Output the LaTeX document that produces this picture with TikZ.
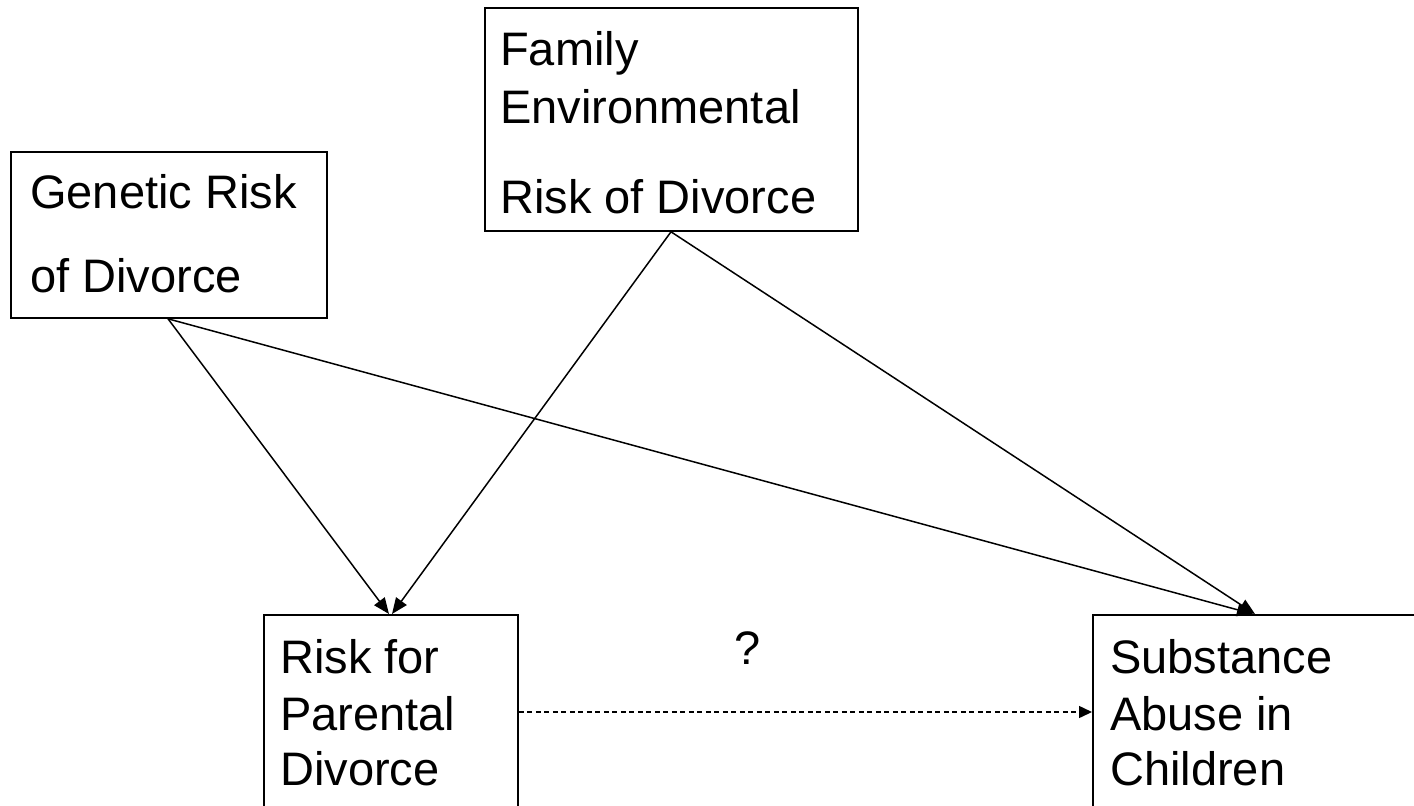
\documentclass[tikz,border=0pt]{standalone}
\usepackage{fontspec}
\setmainfont{Liberation Sans}
\usetikzlibrary{arrows.meta}
\begin{document}
\begin{tikzpicture}[x=1pt,y=-1pt,
  box/.style={draw, line width=1.8pt, inner sep=0pt, anchor=north west},
  lbl/.style={anchor=base west, inner sep=0pt, font=\fontsize{47}{47}\selectfont},
  link/.style={line width=1.5pt, -{Triangle[length=16pt,width=13pt]}},
  maybe/.style={line width=1.5pt, dash pattern=on 5pt off 3.5pt, -{Triangle[length=13pt,width=12pt]}}
]
\useasboundingbox (0,0) rectangle (1414,806);
\clip (0,0) rectangle (1414,806);

% boxes
\node[box, minimum width=316pt, minimum height=166pt] (gen) at (10,151) {};
\node[box, minimum width=373pt, minimum height=223pt] (fam) at (484,7) {};
\node[box, minimum width=254pt, minimum height=250pt] (par) at (263,614) {};
\node[box, minimum width=400pt, minimum height=250pt] (sub) at (1092,614) {};

% box texts
\node[lbl] (gen1) at (30,208) {Genetic Risk};
\node[lbl] (gen2) at (30,292) {of Divorce};
\node[lbl] (fam1) at (500,65) {Family};
\node[lbl] (fam2) at (500,123) {Environmental};
\node[lbl] (fam3) at (500,213) {Risk of Divorce};
\node[lbl] (par1) at (280,673) {Risk for};
\node[lbl] (par2) at (280,730) {Parental};
\node[lbl] (par3) at (280,785) {Divorce};
\node[lbl] (sub1) at (1110,673) {Substance};
\node[lbl] (sub2) at (1110,730) {Abuse in};
\node[lbl] (sub3) at (1110,785) {Children};

\node[lbl, anchor=base] (q) at (748,664) {?};

% paths
\draw[link] ([xshift=158pt]gen.south west) -- ([xshift=126pt]par.north west);
\draw[link] ([xshift=158pt]gen.south west) -- ([xshift=161pt]sub.north west);
\draw[link] ([xshift=187pt]fam.south west) -- ([xshift=129pt]par.north west);
\draw[link] ([xshift=187pt]fam.south west) -- ([xshift=163pt]sub.north west);
\draw[maybe] ([yshift=-98pt]par.north east) -- ([yshift=-98pt]sub.north west);
\end{tikzpicture}
\end{document}
